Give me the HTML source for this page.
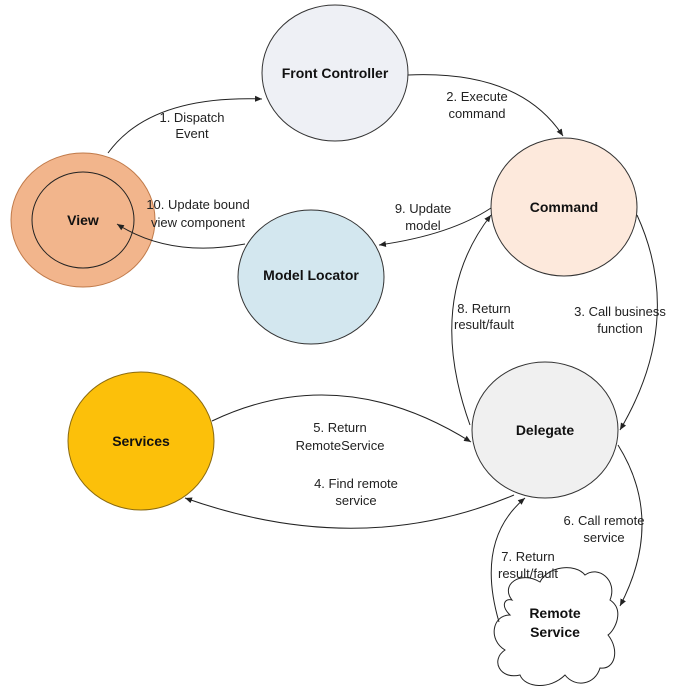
<!DOCTYPE html>
<html><head><meta charset="utf-8"><style>
html,body{margin:0;padding:0;background:#fff;}
svg{display:block}
text{font-family:"Liberation Sans",Arial,sans-serif;font-size:13px;fill:#222;}
.b{font-weight:bold;font-size:14px;fill:#111;}
.l{fill:none;stroke:#222;stroke-width:1;}
</style></head><body>
<svg width="686" height="693" viewBox="0 0 686 693" xmlns="http://www.w3.org/2000/svg">
<defs>
<marker id="a" markerWidth="8" markerHeight="8" refX="7" refY="4" orient="auto" markerUnits="userSpaceOnUse">
<path d="M0,1 L7,4 L0,7 z" fill="#222"/></marker>
</defs>
<!-- nodes -->
<ellipse cx="335" cy="73" rx="73" ry="68" fill="#eef0f5" stroke="#333"/>
<ellipse cx="83" cy="220" rx="72" ry="67" fill="#f2b58c" stroke="#c07a4a"/>
<ellipse cx="83" cy="220" rx="51" ry="48" fill="#f2b58c" stroke="#222"/>
<ellipse cx="564" cy="207" rx="73" ry="69" fill="#fde9dc" stroke="#333"/>
<ellipse cx="311" cy="277" rx="73" ry="67" fill="#d3e7ef" stroke="#333"/>
<ellipse cx="545" cy="430" rx="73" ry="68" fill="#f0f0f0" stroke="#333"/>
<ellipse cx="141" cy="441" rx="73" ry="69" fill="#fcc00a" stroke="#8a6a10"/>
<path d="M512,600 C500,585 520,570 540,582 C548,566 575,563 585,575 C598,565 618,580 610,600 C625,610 615,630 608,635 C620,650 615,670 600,668 C595,685 575,688 565,675 C550,690 525,688 520,675 C500,680 490,660 505,650 C488,640 492,615 510,615 C500,605 505,598 512,600 Z" fill="#fff" stroke="#222"/>
<!-- connectors -->
<path class="l" d="M108,153 Q150,95 262,99" marker-end="url(#a)"/>
<path class="l" d="M408,75 Q520,70 563,136" marker-end="url(#a)"/>
<path class="l" d="M491,208 Q450,235 379,245" marker-end="url(#a)"/>
<path class="l" d="M245,244 Q170,258 117,224" marker-end="url(#a)"/>
<path class="l" d="M637,215 Q685,320 620,430" marker-end="url(#a)"/>
<path class="l" d="M470,425 Q425,300 491,215" marker-end="url(#a)"/>
<path class="l" d="M212,421 Q340,360 471,442" marker-end="url(#a)"/>
<path class="l" d="M514,495 Q360,560 185,498" marker-end="url(#a)"/>
<path class="l" d="M618,445 Q665,520 620,606" marker-end="url(#a)"/>
<path class="l" d="M499,622 Q475,540 525,498" marker-end="url(#a)"/>
<!-- node labels -->
<text class="b" x="335" y="78" text-anchor="middle">Front Controller</text>
<text class="b" x="83" y="225" text-anchor="middle">View</text>
<text class="b" x="564" y="212" text-anchor="middle">Command</text>
<text class="b" x="311" y="280" text-anchor="middle">Model Locator</text>
<text class="b" x="545" y="435" text-anchor="middle">Delegate</text>
<text class="b" x="141" y="446" text-anchor="middle">Services</text>
<text class="b" x="555" y="618" text-anchor="middle">Remote</text>
<text class="b" x="555" y="637" text-anchor="middle">Service</text>
<!-- edge labels -->
<text x="192" y="122" text-anchor="middle">1. Dispatch</text>
<text x="192" y="138" text-anchor="middle">Event</text>
<text x="477" y="101" text-anchor="middle">2. Execute</text>
<text x="477" y="118" text-anchor="middle">command</text>
<text x="198" y="209" text-anchor="middle">10. Update bound</text>
<text x="198" y="227" text-anchor="middle">view component</text>
<text x="423" y="213" text-anchor="middle">9. Update</text>
<text x="423" y="230" text-anchor="middle">model</text>
<text x="484" y="313" text-anchor="middle">8. Return</text>
<text x="484" y="329" text-anchor="middle">result/fault</text>
<text x="620" y="316" text-anchor="middle">3. Call business</text>
<text x="620" y="333" text-anchor="middle">function</text>
<text x="340" y="432" text-anchor="middle">5. Return</text>
<text x="340" y="450" text-anchor="middle">RemoteService</text>
<text x="356" y="488" text-anchor="middle">4. Find remote</text>
<text x="356" y="505" text-anchor="middle">service</text>
<text x="604" y="525" text-anchor="middle">6. Call remote</text>
<text x="604" y="542" text-anchor="middle">service</text>
<text x="528" y="561" text-anchor="middle">7. Return</text>
<text x="528" y="578" text-anchor="middle">result/fault</text>
</svg>
</body></html>
